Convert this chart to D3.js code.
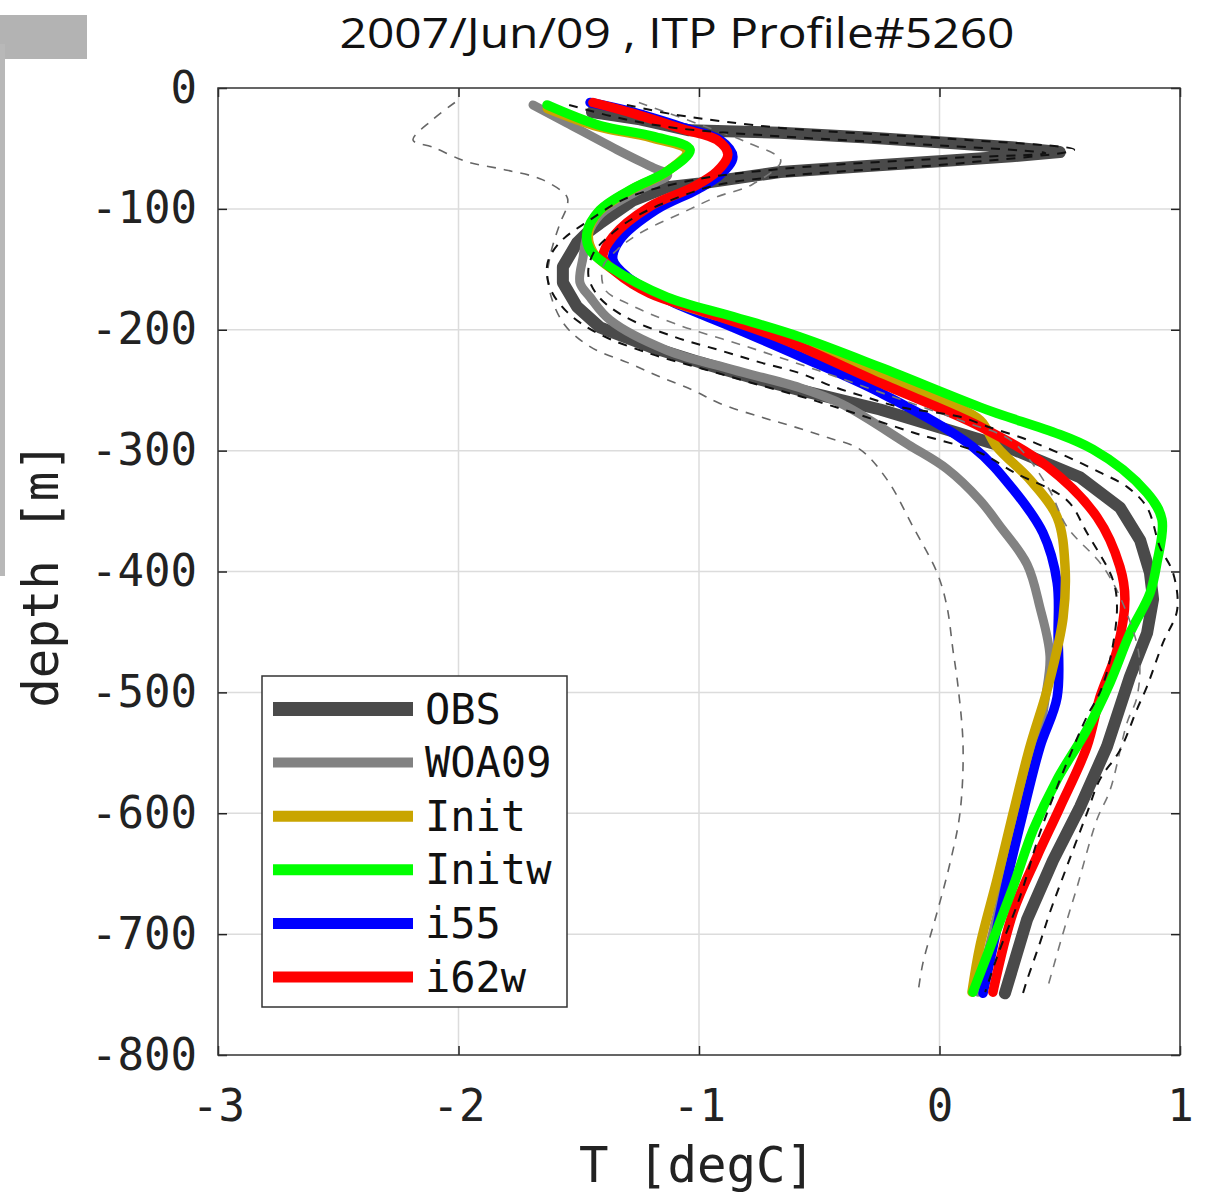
<!DOCTYPE html>
<html><head><meta charset="utf-8">
<script src="https://cdn.jsdelivr.net/npm/d3@7"></script>
<style>body{margin:0;background:#fff}svg{display:block}</style>
</head><body>
<svg id="chart" width="1205" height="1195"></svg>
<script>
// ---- data: [temperature degC, depth m] ----
const titleText = "2007/Jun/09 , ITP Profile#5260";
const xTicks = [-3, -2, -1, 0, 1];
const yTicks = [0, -100, -200, -300, -400, -500, -600, -700, -800];
const seriesNames = ["OBS", "WOA09", "Init", "Initw", "i55", "i62w"];

const obs = [[-1.445,-20],[-1.245,-26],[-1.04,-35],[-0.663,-37],[-0.30,-41],[0.044,-45.5],[0.30,-49],[0.50,-53],[0.30,-56.5],[0.044,-60],[-0.30,-64.5],[-0.663,-69.5],[-0.996,-79],[-1.133,-82],[-1.274,-93],[-1.412,-112],[-1.466,-120],[-1.507,-128],[-1.566,-148],[-1.566,-161],[-1.507,-181],[-1.412,-198],[-1.204,-214],[-0.996,-227],[-0.788,-239],[-0.580,-250],[-0.247,-266],[0.306,-299],[0.584,-322],[0.750,-347],[0.834,-374],[0.875,-401],[0.888,-423],[0.863,-451],[0.792,-487],[0.696,-545],[0.584,-595],[0.472,-639],[0.364,-688],[0.272,-749]];
const woa09 = [[-1.690,-14],[-1.549,-29],[-1.341,-51],[-1.19,-66],[-1.13,-72],[-1.245,-84],[-1.412,-105],[-1.466,-123],[-1.482,-140],[-1.495,-161],[-1.453,-173],[-1.370,-192],[-1.133,-217],[-0.859,-233],[-0.580,-248],[-0.40,-262],[-0.13,-295],[0.03,-315],[0.168,-341],[0.25,-362],[0.364,-394],[0.418,-430],[0.459,-470],[0.44,-505],[0.40,-550],[0.34,-600],[0.28,-650],[0.22,-700],[0.16,-748]];
const init = [[-1.63,-17],[-1.42,-32],[-1.20,-41],[-1.05,-52],[-1.14,-70],[-1.28,-84],[-1.42,-103],[-1.46,-121],[-1.44,-136],[-1.36,-150],[-1.12,-176],[-0.85,-193],[-0.57,-210],[-0.24,-238],[0.05,-262],[0.17,-275],[0.239,-297],[0.376,-324],[0.489,-355],[0.522,-396],[0.514,-438],[0.472,-479],[0.439,-504],[0.376,-545],[0.306,-600],[0.239,-655],[0.168,-710],[0.135,-748]];
const initw = [[-1.632,-14],[-1.412,-31],[-1.19,-40],[-1.037,-51],[-1.133,-69],[-1.274,-83],[-1.412,-101],[-1.466,-120],[-1.453,-134],[-1.370,-148],[-1.133,-173],[-0.859,-189],[-0.580,-206],[-0.247,-231],[0.168,-264],[0.638,-299],[0.863,-335],[0.925,-357],[0.904,-393],[0.875,-418],[0.792,-451],[0.709,-492],[0.613,-531],[0.489,-572],[0.389,-614],[0.306,-661],[0.222,-705],[0.139,-748]];
const i55 = [[-1.453,-12],[-1.274,-20],[-1.06,-33],[-0.913,-43],[-0.859,-57],[-0.913,-72],[-1.008,-84],[-1.18,-101],[-1.33,-126],[-1.358,-142],[-1.299,-156],[-1.133,-175],[-0.859,-198],[-0.580,-222],[-0.247,-252],[0.139,-297],[0.306,-332],[0.430,-368],[0.489,-409],[0.493,-451],[0.489,-504],[0.418,-545],[0.347,-600],[0.281,-655],[0.222,-711],[0.181,-749]];
const i62w = [[-1.441,-12],[-1.274,-21],[-1.067,-34],[-0.925,-43],[-0.88,-55],[-0.925,-69],[-1.025,-82],[-1.204,-98],[-1.358,-123],[-1.399,-140],[-1.341,-153],[-1.204,-170],[-0.996,-184],[-0.717,-203],[-0.580,-214],[-0.247,-244],[0.168,-280],[0.447,-313],[0.655,-355],[0.750,-396],[0.771,-423],[0.738,-465],[0.667,-504],[0.613,-545],[0.501,-595],[0.405,-636],[0.306,-682],[0.222,-748]];
const obsMinus = [[-1.54,-14],[-1.35,-24],[-1.10,-33],[-0.66,-40],[0.04,-48],[0.44,-54],[0.04,-58],[-0.66,-67],[-1.02,-76],[-1.30,-91],[-1.46,-110],[-1.58,-128],[-1.63,-145],[-1.62,-165],[-1.55,-185],[-1.42,-203],[-1.20,-220],[-0.99,-232],[-0.78,-244],[-0.58,-255],[-0.40,-266],[-0.11,-285],[0.17,-302],[0.31,-318],[0.53,-341],[0.613,-368],[0.721,-407],[0.738,-430],[0.709,-473],[0.667,-500],[0.613,-520],[0.530,-558],[0.418,-616],[0.335,-669],[0.239,-719],[0.19,-748]];
const obsPlus = [[-1.30,-14],[-1.10,-22],[-0.66,-33],[0.04,-42],[0.56,-51],[0.10,-62],[-0.60,-72],[-0.92,-80],[-1.08,-90],[-1.25,-105],[-1.36,-120],[-1.44,-137],[-1.46,-155],[-1.42,-172],[-1.31,-189],[-1.10,-206],[-0.913,-217],[-0.746,-227],[-0.58,-236],[-0.443,-247],[-0.301,-256],[-0.164,-264],[0.085,-272],[0.198,-280],[0.364,-291],[0.530,-305],[0.667,-318],[0.78,-330],[0.863,-347],[0.917,-380],[0.971,-401],[0.988,-432],[0.929,-459],[0.863,-495],[0.821,-514],[0.75,-548],[0.667,-572],[0.613,-600],[0.509,-655],[0.459,-682],[0.418,-707],[0.364,-738],[0.347,-749]];
const woaMinus = [[-2.015,-12],[-2.106,-26],[-2.189,-43],[-2.106,-49],[-1.965,-61],[-1.798,-68],[-1.649,-76],[-1.549,-90],[-1.549,-98],[-1.578,-112],[-1.620,-140],[-1.628,-161],[-1.566,-194],[-1.453,-214],[-1.299,-227],[-1.162,-239],[-1.025,-250],[-0.913,-261],[-0.746,-272],[-0.609,-280],[-0.468,-289],[-0.331,-299],[-0.218,-324],[-0.110,-363],[-0.010,-401],[0.031,-429],[0.056,-465],[0.077,-495],[0.098,-545],[0.085,-600],[0.044,-641],[-0.010,-682],[-0.069,-724],[-0.089,-748]];
const woaPlus = [[-1.25,-12],[-1.0,-30],[-0.80,-45],[-0.66,-60],[-0.78,-80],[-0.925,-90],[-1.067,-103],[-1.245,-120],[-1.341,-134],[-1.40,-148],[-1.39,-167],[-1.30,-178],[-1.10,-195],[-0.80,-214],[-0.50,-234],[-0.20,-255],[0.10,-276],[0.30,-292],[0.45,-330],[0.53,-363],[0.68,-396],[0.77,-430],[0.83,-470],[0.821,-504],[0.78,-525],[0.709,-581],[0.655,-605],[0.572,-661],[0.514,-699],[0.447,-746]];

// ---- drawing ----
const svg = d3.select("#chart");
const L = 218, R = 1180, T = 88, B = 1055;
const x = d3.scaleLinear().domain([-3, 1]).range([L, R]);
const y = d3.scaleLinear().domain([0, -800]).range([T, B]);

// artifacts of the cropped figure at the left edge
svg.append("rect").attr("x", 0).attr("y", 15).attr("width", 87).attr("height", 44).attr("fill", "#b3b3b3");
svg.append("rect").attr("x", 0).attr("y", 44).attr("width", 5).attr("height", 532).attr("fill", "#b8b8b8");

// title
svg.append("text").attr("x", 677).attr("y", 48).attr("text-anchor", "middle")
  .attr("font-family", "'Open Sans', sans-serif").attr("font-size", 42)
  .attr("textLength", 675).attr("lengthAdjust", "spacingAndGlyphs")
  .attr("fill", "#111").text(titleText);

// plot background & grid
svg.append("rect").attr("x", L).attr("y", T).attr("width", R - L).attr("height", B - T).attr("fill", "#fff");
const grid = svg.append("g").attr("stroke", "#dcdcdc").attr("stroke-width", 1.5);
grid.selectAll(".gx").data(xTicks.slice(1, -1)).join("line")
  .attr("x1", d => x(d)).attr("x2", d => x(d)).attr("y1", T).attr("y2", B);
grid.selectAll(".gy").data(yTicks.slice(1, -1)).join("line")
  .attr("y1", d => y(d)).attr("y2", d => y(d)).attr("x1", L).attr("x2", R);

const mono = "'DejaVu Sans Mono', monospace";
const fmt = d => String(d);
const styleAxis = g => {
  g.select(".domain").remove();
  g.selectAll(".tick line").attr("stroke", "#222").attr("stroke-width", 1.5);
  g.selectAll(".tick text").attr("font-family", mono).attr("font-size", 44).attr("fill", "#222");
};
svg.append("g").attr("transform", `translate(0,${B})`)
  .call(d3.axisBottom(x).tickValues(xTicks).tickFormat(fmt).tickSizeInner(-9).tickSizeOuter(0).tickPadding(35))
  .call(styleAxis);
svg.append("g").attr("transform", `translate(${L},0)`)
  .call(d3.axisLeft(y).tickValues(yTicks).tickFormat(fmt).tickSizeInner(-9).tickSizeOuter(0).tickPadding(21))
  .call(styleAxis);
svg.append("g").attr("transform", `translate(0,${T})`)
  .call(d3.axisTop(x).tickValues(xTicks).tickFormat("").tickSizeInner(-9).tickSizeOuter(0))
  .call(styleAxis);
svg.append("g").attr("transform", `translate(${R},0)`)
  .call(d3.axisRight(y).tickValues(yTicks).tickFormat("").tickSizeInner(-9).tickSizeOuter(0))
  .call(styleAxis);

// axis labels
svg.append("text").attr("x", 697).attr("y", 1182).attr("text-anchor", "middle")
  .attr("font-family", mono).attr("font-size", 49).attr("fill", "#222").text("T [degC]");
svg.append("text").attr("transform", "translate(58,575) rotate(-90)").attr("text-anchor", "middle")
  .attr("font-family", mono).attr("font-size", 49).attr("fill", "#222").text("depth [m]");

// curves
const lineLin = d3.line().x(d => x(d[0])).y(d => y(d[1]));
const lineSm = d3.line().x(d => x(d[0])).y(d => y(d[1])).curve(d3.curveCatmullRom.alpha(0.5));
const plotG = svg.append("g");
const solid = [
  {data: obs, color: "#4a4a4a", w: 12, gen: lineLin},
  {data: woa09, color: "#828282", w: 9, gen: lineSm},
  {data: i55, color: "#0000ff", w: 9.5, gen: lineSm},
  {data: init, color: "#c9a500", w: 9.5, gen: lineSm},
  {data: i62w, color: "#ff0000", w: 9.5, gen: lineSm},
  {data: initw, color: "#00ff00", w: 9.5, gen: lineSm}
];
solid.forEach(s => plotG.append("path").attr("d", s.gen(s.data)).attr("fill", "none")
  .attr("stroke", s.color).attr("stroke-width", s.w).attr("stroke-linejoin", "round").attr("stroke-linecap", "round"));
const dashed = [
  {data: woaMinus, color: "#666", w: 1.6},
  {data: woaPlus, color: "#777", w: 1.6},
  {data: obsMinus, color: "#111", w: 2},
  {data: obsPlus, color: "#111", w: 2}
];
dashed.forEach(s => plotG.append("path").attr("d", lineSm(s.data)).attr("fill", "none")
  .attr("stroke", s.color).attr("stroke-width", s.w).attr("stroke-dasharray", "9,8"));

// frame
svg.append("rect").attr("x", L).attr("y", T).attr("width", R - L).attr("height", B - T)
  .attr("fill", "none").attr("stroke", "#333").attr("stroke-width", 1.5);

// legend
const legColors = ["#4a4a4a", "#828282", "#c9a500", "#00ff00", "#0000ff", "#ff0000"];
const legW = [14, 10, 11, 11, 11, 11];
const lg = svg.append("g");
lg.append("rect").attr("x", 262).attr("y", 676).attr("width", 305).attr("height", 331)
  .attr("fill", "#fff").attr("stroke", "#333").attr("stroke-width", 1.5);
seriesNames.forEach((n, i) => {
  const yy = 709 + i * 53.6;
  lg.append("line").attr("x1", 273).attr("x2", 413).attr("y1", yy).attr("y2", yy)
    .attr("stroke", legColors[i]).attr("stroke-width", legW[i]);
  lg.append("text").attr("x", 425).attr("y", yy).attr("dominant-baseline", "central")
    .attr("font-family", mono).attr("font-size", 42).attr("fill", "#111").text(n);
});
</script>
</body></html>
